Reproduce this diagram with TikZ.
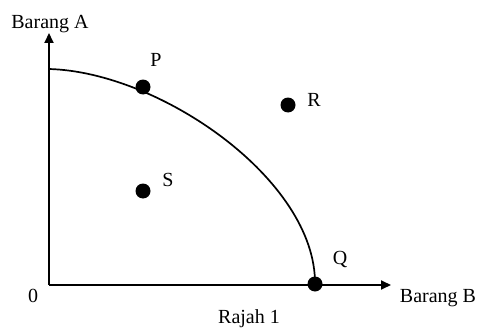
\documentclass[tikz,border=0pt]{standalone}
\usepackage{fontspec}
\setmainfont{Liberation Serif}
\usetikzlibrary{arrows.meta}
\tikzset{
  axis/.style={line width=1.9pt, -{Triangle[length=10pt,width=9pt]}},
  curveline/.style={line width=1.7pt},
  dot/.style={circle, fill=black, inner sep=0pt, minimum size=15pt},
  lbl/.style={font=\fontsize{20}{23}\selectfont, inner sep=0pt, anchor=base},
  ptlbl/.style={font=\fontsize{20}{23}\selectfont, inner sep=0pt}
}
\begin{document}
\begin{tikzpicture}[x=1pt,y=-1pt]
\useasboundingbox (0,0) rectangle (479,329);
\coordinate (O) at (49,285);
\coordinate (Ytip) at (49,33);
\coordinate (Xtip) at (391,285);
\coordinate (C0) at (49,69);
\draw[axis] (O) -- (Ytip);
\draw[axis] (O) -- (Xtip);
\node[dot] (Q) at (315,284) {};
\draw[curveline] (C0) .. controls (160,72) and (316,180) .. (Q.center);
\node[dot] (P) at (143,87) {};
\node[dot] (R) at (288,105) {};
\node[dot] (S) at (143,191) {};
\node[ptlbl] (Plbl) at (156,60) {P};
\node[ptlbl] (Rlbl) at (314,100) {R};
\node[ptlbl] (Slbl) at (168,180) {S};
\node[ptlbl] (Qlbl) at (340,259) {Q};
\node[lbl] (BA) at (50,29) {Barang A};
\node[lbl] (BB) at (438,302) {Barang B};
\node[lbl] (zero) at (33,302) {0};
\node[lbl] (caption) at (249,323) {Rajah 1};
\end{tikzpicture}
\end{document}
